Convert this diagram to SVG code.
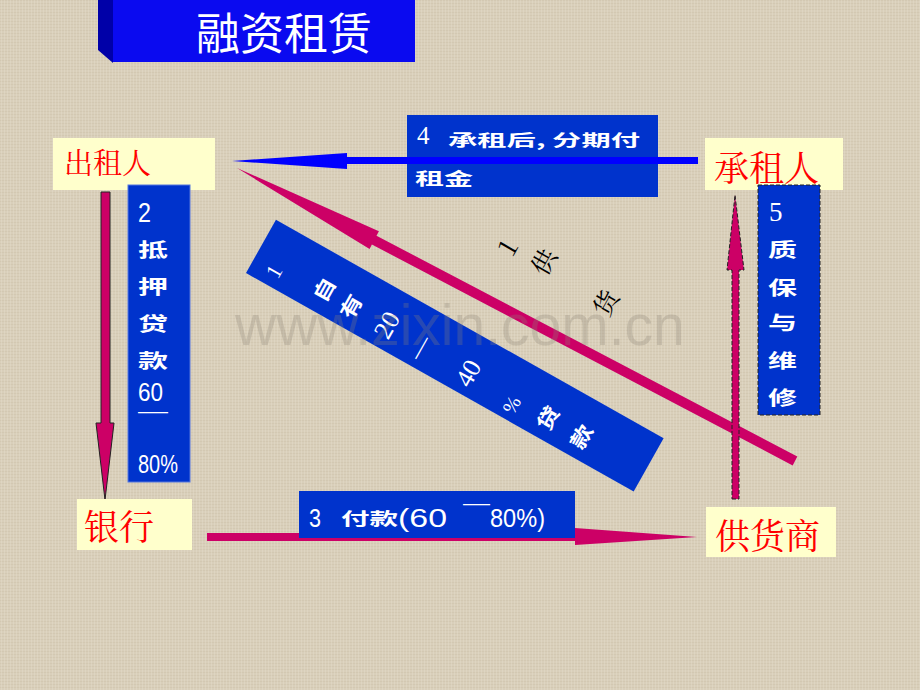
<svg xmlns="http://www.w3.org/2000/svg" width="920" height="690" viewBox="0 0 920 690">
<defs>
<pattern id="tex" width="6" height="6" patternUnits="userSpaceOnUse">
<rect width="6" height="6" fill="#d9cfba"/>
<path d="M0 0.5H6M0 3.5H6" stroke="#c6bba3" stroke-width="0.6" opacity="0.6"/>
<path d="M1.5 0V6M4.5 0V6" stroke="#e6dfcf" stroke-width="0.6" opacity="0.6"/>
</pattern>
<style>
.node{fill:#ffffcc}
.lbl{font-family:"Noto Serif CJK SC","Noto Sans CJK SC",serif;fill:#ff0000}
.blue{fill:#0033cc}
.wb{font-family:"Noto Sans CJK SC",sans-serif;font-weight:bold;fill:#ffffff}
.num{font-family:"Liberation Sans Narrow","Arial Narrow","Liberation Sans",sans-serif;fill:#ffffff}
.ser{font-family:"Liberation Serif","Noto Serif CJK SC",serif;fill:#ffffff}
.crim{fill:#cc0066}
.blk{font-family:"Noto Serif CJK SC","Liberation Serif","Noto Sans CJK SC",serif;fill:#000000}
</style>
</defs>
<rect width="920" height="690" fill="url(#tex)"/>

<g id="title">
<polygon points="98,0 113,0 113,63 98,50" fill="#0000a8"/>
<rect x="113" y="0" width="302" height="62" fill="#0a0af0"/>
<text x="284" y="50" text-anchor="middle" font-family="Noto Sans CJK SC,sans-serif" font-size="44" fill="#ffffff">融资租赁</text>
</g>

<g id="connectors">
<polygon id="arrow-diag" class="crim" points="237,168 378.9,231.3 376.5,235.7 797.3,456.6 792.7,465.4 371.9,244.5 369.6,249 "/>
<polygon id="arrow-down" class="crim" stroke="#222" stroke-width="1" points="101,192 110,192 110,423 114,423 105,500 96,423 101,423"/>
<polygon id="arrow-up" class="crim" stroke="#222" stroke-width="1" stroke-dasharray="4,2" points="732,499 739,499 739,270 744,270 735,195 727,270 732,270"/>
<polygon id="arrow-bottom" class="crim" points="207,533 575,533 575,528 697,537 575,545 575,541 207,541"/>
</g>

<g id="label4">
<rect x="407" y="115" width="251" height="82" class="blue"/>
<text x="417" y="144" class="ser" font-size="25">4</text>
<text x="448" y="146" class="wb" font-size="16" textLength="192" lengthAdjust="spacingAndGlyphs">承租后, 分期付</text>
<text x="415" y="185" class="wb" font-size="17" textLength="58" lengthAdjust="spacingAndGlyphs">租金</text>
</g>
<polygon id="arrow-blue" fill="#0000ff" points="232,161 347,153 347,157 698,157 698,164 347,164 347,169"/>

<g id="lessor">
<rect x="53" y="138" width="162" height="52" class="node"/>
<text x="64" y="174" class="lbl" font-size="29">出租人</text>
</g>
<g id="lessee">
<rect x="705" y="138" width="138" height="52" class="node"/>
<text x="714" y="181" class="lbl" font-size="35">承租人</text>
</g>
<g id="bank">
<rect x="77" y="499" width="115" height="51" class="node"/>
<text x="84" y="540" class="lbl" font-size="35">银行</text>
</g>
<g id="supplier">
<rect x="706" y="507" width="130" height="50" class="node"/>
<text x="715" y="549" class="lbl" font-size="35">供货商</text>
</g>

<g id="label2">
<rect x="128" y="185" width="62" height="297" class="blue" stroke="#5577dd" stroke-width="1"/>
<text x="138" y="222" class="num" font-size="27" textLength="13" lengthAdjust="spacingAndGlyphs">2</text>
<text x="138" y="257" class="wb" font-size="19" textLength="30" lengthAdjust="spacingAndGlyphs">抵</text>
<text x="138" y="294" class="wb" font-size="19" textLength="30" lengthAdjust="spacingAndGlyphs">押</text>
<text x="138" y="331" class="wb" font-size="19" textLength="30" lengthAdjust="spacingAndGlyphs">贷</text>
<text x="138" y="368" class="wb" font-size="19" textLength="30" lengthAdjust="spacingAndGlyphs">款</text>
<text x="138" y="401" class="num" font-size="26" textLength="25" lengthAdjust="spacingAndGlyphs">60</text>
<text x="138" y="416" class="num" font-size="10" font-weight="bold" textLength="30" lengthAdjust="spacingAndGlyphs">—</text>
<text x="138" y="473" class="num" font-size="26" textLength="40" lengthAdjust="spacingAndGlyphs">80%</text>
</g>

<g id="label5">
<rect x="758" y="185" width="62" height="230" class="blue" stroke="#222" stroke-width="1" stroke-dasharray="4,2"/>
<text x="769" y="221" class="ser" font-size="27">5</text>
<text x="768" y="257" class="wb" font-size="19" textLength="29" lengthAdjust="spacingAndGlyphs">质</text>
<text x="768" y="295" class="wb" font-size="19" textLength="29" lengthAdjust="spacingAndGlyphs">保</text>
<text x="768" y="330" class="wb" font-size="19" textLength="29" lengthAdjust="spacingAndGlyphs">与</text>
<text x="768" y="368" class="wb" font-size="19" textLength="29" lengthAdjust="spacingAndGlyphs">维</text>
<text x="768" y="405" class="wb" font-size="19" textLength="29" lengthAdjust="spacingAndGlyphs">修</text>
</g>

<g id="label3">
<rect x="299" y="491" width="276" height="47" class="blue"/>
<text x="309" y="527" class="num" font-size="26" textLength="12" lengthAdjust="spacingAndGlyphs">3</text>
<text x="341" y="525" class="wb" font-size="17" textLength="57" lengthAdjust="spacingAndGlyphs">付款</text>
<text x="398" y="527" class="num" font-size="26" textLength="49" lengthAdjust="spacingAndGlyphs">(60</text>
<text x="463" y="508" class="num" font-size="12" font-weight="bold" textLength="27" lengthAdjust="spacingAndGlyphs">—</text>
<text x="490" y="527" class="num" font-size="26" textLength="55" lengthAdjust="spacingAndGlyphs">80%)</text>
</g>

<g id="label1" transform="translate(246,273) rotate(-60.6)">
<rect x="0" y="0" width="61" height="445" class="blue"/>
<text x="15" y="31" class="ser" font-size="22" text-anchor="middle">1</text>
<text x="12" y="84" class="wb" font-size="20" textLength="24" lengthAdjust="spacingAndGlyphs">自</text>
<text x="10.5" y="115.5" class="wb" font-size="20" textLength="24" lengthAdjust="spacingAndGlyphs">有</text>
<text x="23.8" y="157" class="ser" font-size="26" text-anchor="middle">20</text>
<text x="20.7" y="195.5" class="ser" font-size="24" text-anchor="middle">—</text>
<text x="21.8" y="251.5" class="ser" font-size="26" text-anchor="middle">40</text>
<text x="15.5" y="303" class="ser" font-size="20" text-anchor="middle">%</text>
<text x="9.8" y="342" class="wb" font-size="20" textLength="24" lengthAdjust="spacingAndGlyphs">贷</text>
<text x="10.2" y="380" class="wb" font-size="20" textLength="24" lengthAdjust="spacingAndGlyphs">款</text>
</g>

<g id="label-supply">
<text transform="translate(508,247.5) rotate(-60.6)" y="9" class="blk" font-size="26" text-anchor="middle">1</text>
<text transform="translate(544,262) rotate(-60.6)" y="9" class="blk" font-size="25" text-anchor="middle">供</text>
<text transform="translate(606,303) rotate(-60.6)" y="9" class="blk" font-size="25" text-anchor="middle">货</text>
</g>

<text x="235" y="345" font-family="Liberation Sans,sans-serif" font-size="57" fill="#8c8476" opacity="0.28">www.zixin.com.cn</text>
</svg>
